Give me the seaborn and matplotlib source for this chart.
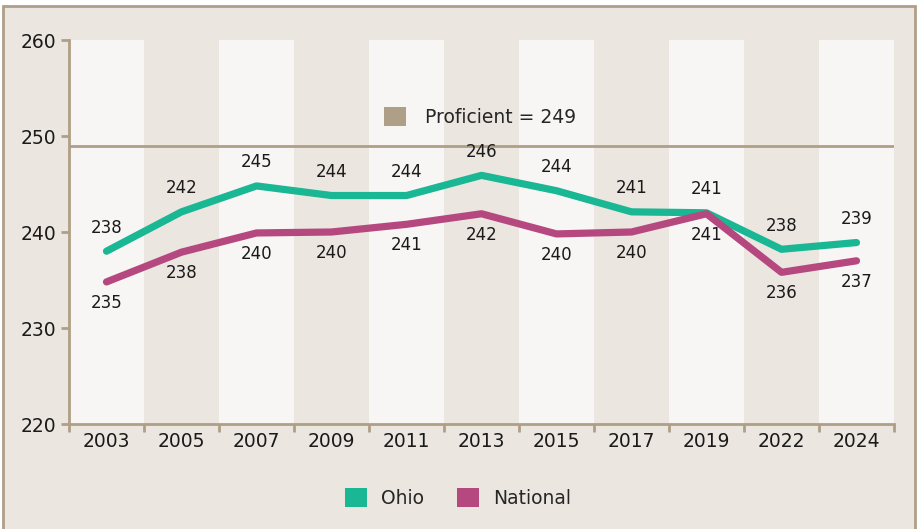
import pandas as pd
import seaborn as sns
import matplotlib.pyplot as plt
from matplotlib.patches import Patch, Rectangle

# Data
years = ["2003", "2005", "2007", "2009", "2011", "2013", "2015", "2017", "2019", "2022", "2024"]
ohio = [238.0, 242.1, 244.8, 243.8, 243.8, 245.9, 244.3, 242.1, 242.0, 238.2, 238.9]
national = [234.8, 237.9, 239.9, 240.0, 240.8, 241.9, 239.8, 240.0, 241.9, 235.8, 237.0]
ohio_labels = [238, 242, 245, 244, 244, 246, 244, 241, 241, 238, 239]
national_labels = [235, 238, 240, 240, 241, 242, 240, 240, 241, 236, 237]
proficient = 249

teal = "#19b793"
magenta = "#b5487f"
tan = "#b09f87"
bg = "#ebe6e0"
band = "#f7f6f4"
txt = "#1a1a1a"

df = pd.DataFrame({
    "year": years * 2,
    "score": ohio + national,
    "group": ["Ohio"] * len(years) + ["National"] * len(years),
})

sns.set_style("ticks")
plt.rcParams["font.family"] = ["DejaVu Sans"]

fig = plt.figure(figsize=(9.18, 5.29), dpi=100)
fig.patch.set_facecolor("white")
fig.add_artist(Rectangle((3 / 918, -0.05), 912 / 918, 1 - 6 / 529 + 0.05, transform=fig.transFigure,
                         facecolor=bg, edgecolor=tan, linewidth=2, zorder=-10))

ax = fig.add_axes([69 / 918, 1 - 424 / 529, 825 / 918, 384 / 529])
ax.set_facecolor(bg)
ax.patch.set_alpha(0)

# alternating column bands
for i in range(0, len(years), 2):
    ax.axvspan(i - 0.5, i + 0.5, color=band, zorder=0, lw=0)

ax.axhline(proficient, color=tan, lw=2, zorder=1)

sns.lineplot(data=df, x="year", y="score", hue="group", palette={"Ohio": teal, "National": magenta},
             linewidth=5.2, ax=ax, legend=False, sort=False, zorder=3)
for line in ax.get_lines():
    line.set_solid_capstyle("round")
    line.set_solid_joinstyle("round")

for i in range(len(years)):
    ax.annotate(str(ohio_labels[i]), (i, ohio[i]), xytext=(0, 17), textcoords="offset points",
                ha="center", va="center", fontsize=12, color=txt)
    ax.annotate(str(national_labels[i]), (i, national[i]), xytext=(0, -15), textcoords="offset points",
                ha="center", va="center", fontsize=12, color=txt)

ax.set_xlim(-0.5, len(years) - 0.5)
ax.set_ylim(220, 260)
ax.set_yticks([220, 230, 240, 250, 260])
ax.set_xticks(range(len(years)))
ax.set_xticklabels(years)
ax.set_xticks([i - 0.5 for i in range(len(years) + 1)], minor=True)
ax.tick_params(axis="x", which="major", bottom=True, length=0, pad=6, labelsize=13.5, labelcolor=txt)
ax.tick_params(axis="x", which="minor", bottom=True, length=6, width=2, color=tan, direction="out")
ax.tick_params(axis="y", left=True, length=6, width=2, color=tan, direction="out", pad=3,
               labelsize=13.5, labelcolor=txt)
ax.set_xlabel("")
ax.set_ylabel("")

for side in ["top", "right"]:
    ax.spines[side].set_visible(False)
for side in ["left", "bottom"]:
    ax.spines[side].set_color(tan)
    ax.spines[side].set_linewidth(2)

# Proficient legend
ax.legend(handles=[Patch(facecolor=tan, edgecolor="none")], labels=["Proficient = " + str(proficient)],
          loc="center left", bbox_to_anchor=(306 / 825, 1 - 77 / 384), frameon=False,
          fontsize=13.5, handlelength=1.15, handleheight=1.15, handletextpad=1.0, borderpad=0)

# Series legend
fig.legend(handles=[Patch(facecolor=teal, edgecolor="none"), Patch(facecolor=magenta, edgecolor="none")],
           labels=["Ohio", "National"],
           loc="center", bbox_to_anchor=(458 / 918, 1 - 498 / 529), ncol=2, frameon=False,
           fontsize=13.5, handlelength=1.15, handleheight=1.15, handletextpad=0.75, columnspacing=1.8)

fig.savefig("out.png", dpi=100, facecolor=fig.get_facecolor())
